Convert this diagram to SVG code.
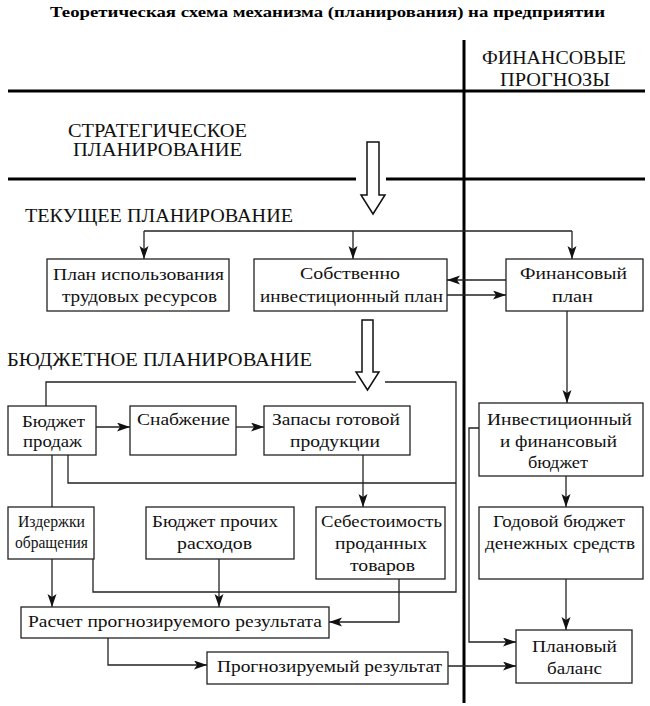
<svg xmlns="http://www.w3.org/2000/svg" width="650" height="706" viewBox="0 0 650 706" font-family="'Liberation Serif', 'Times New Roman', Times, 'DejaVu Serif', serif">
<defs>
<marker id="ah" markerUnits="userSpaceOnUse" markerWidth="14" markerHeight="10" refX="13" refY="4.5" orient="auto">
<path d="M0,0 L13,4.5 L0,9 L3,4.5 z" fill="#111"/>
</marker>
</defs>
<style>
.box{fill:#fff;stroke:#222;stroke-width:1.3}
.t{font-family:'Liberation Serif','Times New Roman',Times,'DejaVu Serif',serif;font-size:17px;fill:#111}
.h{font-family:'Liberation Serif','Times New Roman',Times,'DejaVu Serif',serif;font-size:18px;fill:#111}
.ttl{font-family:'Liberation Serif','Times New Roman',Times,'DejaVu Serif',serif;font-size:15px;font-weight:bold;fill:#000}
.thick{stroke:#000;stroke-width:3;fill:none}
.c{stroke:#222;stroke-width:1.3;fill:none}
.ca{stroke:#222;stroke-width:1.3;fill:none;marker-end:url(#ah)}
.hollow{fill:#fff;stroke:#111;stroke-width:1.5}
</style>
<rect width="650" height="706" fill="#fff"/>

<text class="ttl" x="50" y="17" textLength="555" lengthAdjust="spacingAndGlyphs">Теоретическая схема механизма (планирования) на предприятии</text>

<g id="frame">
<line class="thick" x1="8" y1="91" x2="645" y2="91"/>
<line class="thick" x1="8" y1="179" x2="356" y2="179"/>
<line class="thick" x1="386" y1="179" x2="645" y2="179"/>
<line class="thick" x1="464" y1="40" x2="464" y2="703"/>
</g>

<g id="labels">
<text class="h" x="482" y="64" textLength="144" lengthAdjust="spacingAndGlyphs">ФИНАНСОВЫЕ</text>
<text class="h" x="500" y="86" textLength="110" lengthAdjust="spacingAndGlyphs">ПРОГНОЗЫ</text>
<text class="h" x="68" y="137" textLength="179" lengthAdjust="spacingAndGlyphs">СТРАТЕГИЧЕСКОЕ</text>
<text class="h" x="73" y="156" textLength="169" lengthAdjust="spacingAndGlyphs">ПЛАНИРОВАНИЕ</text>
<text class="h" x="25" y="222" textLength="268" lengthAdjust="spacingAndGlyphs">ТЕКУЩЕЕ ПЛАНИРОВАНИЕ</text>
<text class="h" x="7" y="366" textLength="305" lengthAdjust="spacingAndGlyphs">БЮДЖЕТНОЕ ПЛАНИРОВАНИЕ</text>
</g>

<g id="connectors">
<polygon class="hollow" points="367,142 379,142 379,195 385,195 373,214 361,195 367,195"/>
<polygon class="hollow" points="362,320 373,320 373,372 379,372 367.5,390 356,372 362,372"/>
<line class="c" x1="144" y1="231" x2="572" y2="231"/>
<line class="ca" x1="144" y1="231" x2="144" y2="259"/>
<line class="ca" x1="353" y1="231" x2="353" y2="259"/>
<line class="ca" x1="572" y1="231" x2="572" y2="259"/>
<line class="ca" x1="506" y1="280" x2="447" y2="280"/>
<line class="ca" x1="447" y1="295" x2="506" y2="295"/>
<line class="ca" x1="567" y1="311" x2="567" y2="403"/>
<polyline class="c" points="46,406 46,382 356,382"/>
<polyline class="c" points="385,382 456,382 456,592 93,592 93,559"/>
<polyline class="c" points="68,455 68,483 456,483"/>
<line class="ca" x1="96" y1="427" x2="130" y2="427"/>
<line class="ca" x1="236" y1="427" x2="264" y2="427"/>
<line class="ca" x1="363" y1="455" x2="363" y2="507"/>
<line class="c" x1="52" y1="455" x2="52" y2="507"/>
<line class="ca" x1="52" y1="559" x2="52" y2="607"/>
<line class="ca" x1="219" y1="559" x2="219" y2="607"/>
<polyline class="ca" points="399,579 399,622 329,622"/>
<polyline class="ca" points="108,638 108,665 207,665"/>
<line class="ca" x1="448" y1="666" x2="516" y2="666"/>
<polyline class="ca" points="479,428 469,428 469,642 516,642"/>
<line class="ca" x1="566" y1="476" x2="566" y2="507"/>
<line class="ca" x1="566" y1="579" x2="566" y2="630"/>
</g>

<g id="plan-trud">
<rect class="box" x="47" y="259" width="182" height="52"/>
<text class="t" x="53" y="280" textLength="171" lengthAdjust="spacingAndGlyphs">План использования</text>
<text class="t" x="62" y="302" textLength="155" lengthAdjust="spacingAndGlyphs">трудовых ресурсов</text>
</g>
<g id="invest-plan">
<rect class="box" x="254" y="259" width="193" height="52"/>
<text class="t" x="300" y="279" textLength="100" lengthAdjust="spacingAndGlyphs">Собственно</text>
<text class="t" x="260" y="302" textLength="183" lengthAdjust="spacingAndGlyphs">инвестиционный план</text>
</g>
<g id="fin-plan">
<rect class="box" x="506" y="259" width="137" height="52"/>
<text class="t" x="520" y="279" textLength="107" lengthAdjust="spacingAndGlyphs">Финансовый</text>
<text class="t" x="552" y="302" textLength="41" lengthAdjust="spacingAndGlyphs">план</text>
</g>
<g id="sales">
<rect class="box" x="8" y="406" width="88" height="49"/>
<text class="t" x="22" y="427" textLength="63" lengthAdjust="spacingAndGlyphs">Бюджет</text>
<text class="t" x="23" y="447" textLength="59" lengthAdjust="spacingAndGlyphs">продаж</text>
</g>
<g id="supply">
<rect class="box" x="130" y="406" width="106" height="49"/>
<text class="t" x="137" y="425" textLength="93" lengthAdjust="spacingAndGlyphs">Снабжение</text>
</g>
<g id="stock">
<rect class="box" x="264" y="406" width="146" height="49"/>
<text class="t" x="272" y="425" textLength="128" lengthAdjust="spacingAndGlyphs">Запасы готовой</text>
<text class="t" x="290" y="447" textLength="90" lengthAdjust="spacingAndGlyphs">продукции</text>
</g>
<g id="invest-budget">
<rect class="box" x="479" y="403" width="164" height="73"/>
<text class="t" x="487" y="425" textLength="145" lengthAdjust="spacingAndGlyphs">Инвестиционный</text>
<text class="t" x="500" y="447" textLength="117" lengthAdjust="spacingAndGlyphs">и финансовый</text>
<text class="t" x="528" y="468" textLength="60" lengthAdjust="spacingAndGlyphs">бюджет</text>
</g>
<g id="costs">
<rect class="box" x="8" y="507" width="86" height="52"/>
<text class="t" x="18" y="527" textLength="67" lengthAdjust="spacingAndGlyphs">Издержки</text>
<text class="t" x="15" y="548" textLength="73" lengthAdjust="spacingAndGlyphs">обращения</text>
</g>
<g id="other">
<rect class="box" x="146" y="507" width="148" height="52"/>
<text class="t" x="152" y="527" textLength="126" lengthAdjust="spacingAndGlyphs">Бюджет прочих</text>
<text class="t" x="177" y="549" textLength="75" lengthAdjust="spacingAndGlyphs">расходов</text>
</g>
<g id="cogs">
<rect class="box" x="316" y="507" width="129" height="72"/>
<text class="t" x="321" y="527" textLength="121" lengthAdjust="spacingAndGlyphs">Себестоимость</text>
<text class="t" x="335" y="549" textLength="92" lengthAdjust="spacingAndGlyphs">проданных</text>
<text class="t" x="350" y="571" textLength="65" lengthAdjust="spacingAndGlyphs">товаров</text>
</g>
<g id="cash">
<rect class="box" x="479" y="507" width="164" height="72"/>
<text class="t" x="493" y="527" textLength="132" lengthAdjust="spacingAndGlyphs">Годовой бюджет</text>
<text class="t" x="485" y="549" textLength="150" lengthAdjust="spacingAndGlyphs">денежных средств</text>
</g>
<g id="calc">
<rect class="box" x="21" y="607" width="308" height="31"/>
<text class="t" x="28" y="627" textLength="294" lengthAdjust="spacingAndGlyphs">Расчет прогнозируемого результата</text>
</g>
<g id="result">
<rect class="box" x="207" y="652" width="241" height="32"/>
<text class="t" x="217" y="672" textLength="225" lengthAdjust="spacingAndGlyphs">Прогнозируемый результат</text>
</g>
<g id="balance">
<rect class="box" x="516" y="630" width="116" height="53"/>
<text class="t" x="532" y="652" textLength="85" lengthAdjust="spacingAndGlyphs">Плановый</text>
<text class="t" x="547" y="674" textLength="55" lengthAdjust="spacingAndGlyphs">баланс</text>
</g>
</svg>
